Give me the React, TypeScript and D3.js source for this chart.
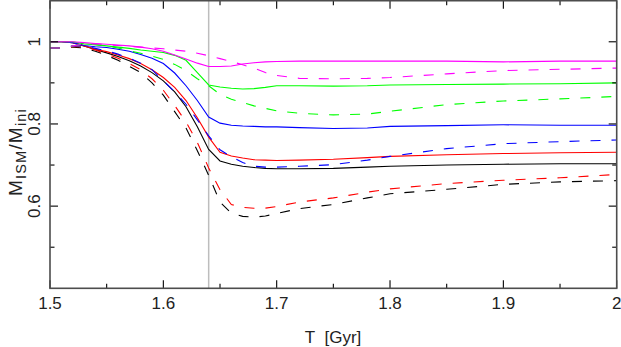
import React from "react";
import * as d3 from "d3";

// time grid [Gyr]
const T = [1.50, 1.51, 1.52, 1.53, 1.54, 1.55, 1.56, 1.57, 1.58, 1.59, 1.60, 1.61, 1.62, 1.63, 1.64, 1.65, 1.66, 1.67, 1.68, 1.69, 1.70, 1.72, 1.75, 1.78, 1.80, 1.85, 1.90, 1.95, 2.00];

// M_ISM / M_ini, solid models
const magentaSolid = [1, 1, 1, 0.998, 0.996, 0.994, 0.992, 0.99, 0.987, 0.983, 0.977, 0.968, 0.958, 0.948, 0.94, 0.94, 0.941, 0.946, 0.949, 0.951, 0.952, 0.953, 0.953, 0.953, 0.953, 0.953, 0.951, 0.953, 0.953];
const greenSolid = [1, 1, 1, 0.995, 0.993, 0.99, 0.987, 0.984, 0.98, 0.977, 0.974, 0.967, 0.955, 0.925, 0.895, 0.89, 0.887, 0.885, 0.886, 0.889, 0.893, 0.893, 0.892, 0.893, 0.895, 0.896, 0.897, 0.898, 0.9];
const blueSolid = [1, 1, 0.998, 0.991, 0.988, 0.986, 0.982, 0.977, 0.969, 0.96, 0.947, 0.924, 0.893, 0.857, 0.817, 0.802, 0.797, 0.795, 0.794, 0.793, 0.793, 0.791, 0.789, 0.79, 0.794, 0.796, 0.798, 0.797, 0.797];
const redSolid = [1, 1, 0.998, 0.99, 0.982, 0.976, 0.968, 0.959, 0.947, 0.932, 0.913, 0.889, 0.857, 0.815, 0.768, 0.731, 0.722, 0.717, 0.713, 0.712, 0.711, 0.712, 0.714, 0.718, 0.721, 0.725, 0.728, 0.73, 0.731];
const blackSolid = [1, 1, 0.998, 0.99, 0.981, 0.973, 0.964, 0.954, 0.941, 0.925, 0.905, 0.878, 0.842, 0.793, 0.738, 0.71, 0.702, 0.697, 0.694, 0.692, 0.691, 0.691, 0.692, 0.695, 0.697, 0.7, 0.702, 0.703, 0.703];

// dashed models
const magentaDashed = [0.985, 0.985, 0.99, 0.995, 0.995, 0.993, 0.991, 0.989, 0.987, 0.985, 0.983, 0.98, 0.977, 0.972, 0.966, 0.959, 0.952, 0.944, 0.936, 0.925, 0.918, 0.911, 0.91, 0.911, 0.913, 0.922, 0.93, 0.933, 0.936];
const greenDashed = [0.985, 0.985, 0.99, 0.995, 0.993, 0.99, 0.985, 0.978, 0.972, 0.965, 0.957, 0.945, 0.93, 0.91, 0.893, 0.872, 0.86, 0.852, 0.844, 0.838, 0.832, 0.826, 0.822, 0.824, 0.831, 0.847, 0.856, 0.861, 0.867];
const blueDashed = [0.985, 0.985, 0.99, 0.99, 0.984, 0.978, 0.97, 0.96, 0.948, 0.932, 0.905, 0.878, 0.848, 0.81, 0.771, 0.737, 0.72, 0.706, 0.697, 0.695, 0.695, 0.697, 0.701, 0.712, 0.721, 0.74, 0.752, 0.757, 0.761];
const redDashed = [0.985, 0.985, 0.988, 0.988, 0.98, 0.97, 0.96, 0.947, 0.932, 0.91, 0.882, 0.845, 0.805, 0.755, 0.693, 0.64, 0.604, 0.597, 0.595, 0.595, 0.599, 0.61, 0.62, 0.634, 0.642, 0.655, 0.663, 0.669, 0.677];
const blackDashed = [0.985, 0.985, 0.987, 0.985, 0.977, 0.967, 0.955, 0.94, 0.925, 0.9, 0.87, 0.83, 0.79, 0.735, 0.675, 0.61, 0.583, 0.575, 0.573, 0.576, 0.582, 0.594, 0.604, 0.62, 0.63, 0.641, 0.653, 0.659, 0.662];

const series = [
  { values: blackSolid, color: "#000000", dashed: false },
  { values: redSolid, color: "#ff0000", dashed: false },
  { values: blueSolid, color: "#0000ff", dashed: false },
  { values: greenSolid, color: "#00ff00", dashed: false },
  { values: magentaSolid, color: "#ff00ff", dashed: false },
  { values: blackDashed, color: "#000000", dashed: true },
  { values: redDashed, color: "#ff0000", dashed: true },
  { values: blueDashed, color: "#0000ff", dashed: true },
  { values: greenDashed, color: "#00ff00", dashed: true },
  { values: magentaDashed, color: "#ff00ff", dashed: true },
];

const xMajor = [1.5, 1.6, 1.7, 1.8, 1.9, 2.0];
const xMinor = [1.55, 1.65, 1.75, 1.85, 1.95];
const yMajor = [0.6, 0.8, 1.0];
const yMinor = [0.5, 0.7, 0.9];
const tStar = 1.64;

const W = 621;
const H = 347;
const left = 50;
const right = 616.7;
const top = 0.7;
const bottom = 288.3;
const font = "'Liberation Sans', Arial, Helvetica, sans-serif";

const App = () => {
  const x = d3.scaleLinear().domain([1.5, 2.0]).range([left, right]);
  const y = d3.scaleLinear().domain([0.4, 1.1]).range([bottom, top]);

  const line = (vals: number[]) =>
    d3.line<number>()
      .x((d, i) => x(T[i]))
      .y((d) => y(d))(vals) || "";

  const major = 8;
  const minor = 4.5;

  return (
    <div style={{ position: "absolute", left: 0, top: 0 }}>
      <svg width={W} height={H} style={{ display: "block", background: "#fff" }}>
        {/* t = 1.64 marker */}
        <line x1={x(tStar)} x2={x(tStar)} y1={top} y2={bottom} stroke="#bdbdbd" strokeWidth={1.5} />

        {/* curves */}
        {series.map((s, i) => (
          <path
            key={i}
            d={line(s.values)}
            fill="none"
            stroke={s.color}
            strokeWidth={1.1}
            strokeDasharray={s.dashed ? "10,11" : undefined}
          />
        ))}

        {/* ticks */}
        <g stroke="#000" strokeWidth={1.1}>
          {xMajor.map((t) => (
            <g key={"xM" + t}>
              <line x1={x(t)} x2={x(t)} y1={bottom} y2={bottom - major} />
              <line x1={x(t)} x2={x(t)} y1={top} y2={top + major} />
            </g>
          ))}
          {xMinor.map((t) => (
            <g key={"xm" + t}>
              <line x1={x(t)} x2={x(t)} y1={bottom} y2={bottom - minor} />
              <line x1={x(t)} x2={x(t)} y1={top} y2={top + minor} />
            </g>
          ))}
          {yMajor.map((v) => (
            <g key={"yM" + v}>
              <line x1={left} x2={left + major} y1={y(v)} y2={y(v)} />
              <line x1={right} x2={right - major} y1={y(v)} y2={y(v)} />
            </g>
          ))}
          {yMinor.map((v) => (
            <g key={"ym" + v}>
              <line x1={left} x2={left + minor} y1={y(v)} y2={y(v)} />
              <line x1={right} x2={right - minor} y1={y(v)} y2={y(v)} />
            </g>
          ))}
        </g>

        {/* frame */}
        <rect x={left} y={top} width={right - left} height={bottom - top} fill="none" stroke="#4d4d4d" strokeWidth={1.6} />

        {/* tick labels */}
        {xMajor.map((t) => (
          <text key={"xl" + t} x={x(t)} y={309} textAnchor="middle" fontFamily={font} fontSize={17} fill="#222">
            {t === 2 ? "2" : t.toFixed(1)}
          </text>
        ))}
        {yMajor.map((v) => (
          <text
            key={"yl" + v}
            transform={`translate(39.5,${y(v)}) rotate(-90)`}
            textAnchor="middle"
            fontFamily={font}
            fontSize={17}
            fill="#222"
          >
            {v === 1 ? "1" : v.toFixed(1)}
          </text>
        ))}

        {/* axis titles */}
        <text x={333} y={343} textAnchor="middle" fontFamily={font} fontSize={17} fill="#222">
          {"T\u00a0\u00a0[Gyr]"}
        </text>
        <text
          transform={`translate(22,152) rotate(-90)`}
          textAnchor="middle"
          fontFamily={font}
          fontSize={19}
          letterSpacing={1.2}
          fill="#222"
        >
          M<tspan fontSize={14.5} dy={4}>ISM</tspan>
          <tspan dy={-4}>/M</tspan>
          <tspan fontSize={14.5} dy={4}>ini</tspan>
        </text>
      </svg>
    </div>
  );
};

export default App;
